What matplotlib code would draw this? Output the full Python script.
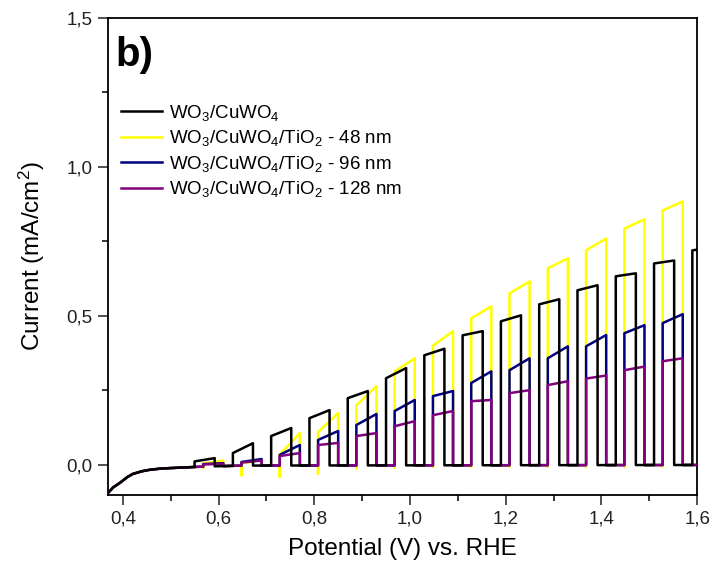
import numpy as np
import matplotlib.pyplot as plt
from matplotlib.ticker import FuncFormatter, MultipleLocator

plt.rcParams["font.family"] = ["Liberation Sans", "DejaVu Sans"]
plt.rcParams["mathtext.default"] = "regular"

# dark current (light off), same for all films
dark_v = [0.369, 0.38, 0.394, 0.41, 0.421, 0.44, 0.457, 0.48, 0.505, 0.56, 0.65, 1.60]
dark_i = [-0.094, -0.075, -0.060, -0.040, -0.030, -0.021, -0.016, -0.012, -0.010, -0.006, -0.002, 0.0]

# potentials where the light is switched on (black film)
pulse_v = [0.55, 0.63, 0.71, 0.79, 0.87, 0.95, 1.03, 1.11, 1.19, 1.27, 1.35, 1.43, 1.51, 1.59]
on_width = 0.042
lag_tio2 = 0.018  # TiO2 coated films are chopped a bit later

# photocurrent at start / end of each light pulse (mA/cm2)
black_on = [0.012, 0.040, 0.097, 0.157, 0.224, 0.291, 0.368, 0.435, 0.482, 0.539, 0.586, 0.633, 0.676, 0.720]
black_off = [0.023, 0.073, 0.124, 0.184, 0.248, 0.325, 0.390, 0.449, 0.502, 0.556, 0.603, 0.643, 0.686, 0.730]

yellow_on = [0.005, 0.005, 0.035, 0.110, 0.200, 0.314, 0.400, 0.492, 0.576, 0.660, 0.720, 0.793, 0.854]
yellow_off = [0.015, 0.017, 0.107, 0.174, 0.264, 0.358, 0.449, 0.532, 0.616, 0.693, 0.760, 0.824, 0.884]
yellow_dip = [-0.010, -0.035, -0.040, -0.030, -0.012, -0.008, -0.006, -0.005, -0.005, -0.005, -0.005, -0.005, -0.005]

blue_on = [0.003, 0.010, 0.034, 0.084, 0.134, 0.181, 0.231, 0.275, 0.318, 0.358, 0.398, 0.442, 0.476]
blue_off = [0.006, 0.020, 0.067, 0.114, 0.171, 0.218, 0.248, 0.314, 0.358, 0.398, 0.436, 0.469, 0.506]

purple_on = [0.002, 0.008, 0.030, 0.067, 0.097, 0.130, 0.167, 0.214, 0.241, 0.268, 0.290, 0.318, 0.348]
purple_off = [0.004, 0.015, 0.040, 0.074, 0.107, 0.147, 0.181, 0.218, 0.251, 0.281, 0.300, 0.330, 0.358]

labels = [
    "WO$_3$/CuWO$_4$",
    "WO$_3$/CuWO$_4$/TiO$_2$ - 48 nm",
    "WO$_3$/CuWO$_4$/TiO$_2$ - 96 nm",
    "WO$_3$/CuWO$_4$/TiO$_2$ - 128 nm",
]
colors = ["black", "#ffff00", "#000080", "#800080"]


def base(v):
    return np.interp(v, dark_v, dark_i)


def chopped(starts, i_on, i_off, dips=None):
    vv, ii = [], []
    prev = dark_v[0] - 1
    for k, s in enumerate(starts):
        e = s + on_width
        for dv, di in zip(dark_v, dark_i):
            if prev < dv < s:
                vv.append(dv)
                ii.append(di)
        vv.append(s)
        ii.append(base(s))
        if dips is not None:
            vv.append(s)
            ii.append(dips[k])
        vv += [s, e, e]
        ii += [i_on[k], i_off[k], base(e)]
        prev = e
    for dv, di in zip(dark_v, dark_i):
        if dv > prev:
            vv.append(dv)
            ii.append(di)
    return vv, ii


fig = plt.figure(figsize=(7.15, 5.76), dpi=100)
ax = fig.add_axes([0.151, 0.141, 0.824, 0.828])

lagged = [s + lag_tio2 for s in pulse_v[:13]]
traces = [
    chopped(pulse_v, black_on, black_off),
    chopped(lagged, yellow_on, yellow_off, yellow_dip),
    chopped(lagged, blue_on, blue_off),
    chopped(lagged, purple_on, purple_off),
]
zorders = [4, 2, 3, 3]
for (v, i), c, lab, z in zip(traces, colors, labels, zorders):
    ax.plot(v, i, color=c, lw=1.8, label=lab, zorder=z)

ax.set_xlim(0.369, 1.6)
ax.set_ylim(-0.1, 1.5)
ax.xaxis.set_major_locator(MultipleLocator(0.2))
ax.xaxis.set_minor_locator(MultipleLocator(0.1))
ax.yaxis.set_major_locator(MultipleLocator(0.5))
ax.yaxis.set_minor_locator(MultipleLocator(0.25))
comma = FuncFormatter(lambda x, p: f"{x:.1f}".replace(".", ","))
ax.xaxis.set_major_formatter(comma)
ax.yaxis.set_major_formatter(comma)
ax.tick_params(which="major", direction="out", length=7, width=1.1, labelsize=13.5,
               colors="#222222", pad=4)
ax.tick_params(which="minor", direction="out", length=4, width=1.1)
for sp in ax.spines.values():
    sp.set_linewidth(1.3)

ax.set_xlabel("Potential (V) vs. RHE", fontsize=17.5, labelpad=8)
ax.set_ylabel("Current (mA/cm$^2$)", fontsize=17.5, labelpad=14)

ax.text(0.012, 0.962, "b)", transform=ax.transAxes, fontsize=29, fontweight="bold",
        ha="left", va="top")
ax.legend(loc="upper left", bbox_to_anchor=(0.0, 0.85), frameon=False, fontsize=13.5,
          handlelength=2.2, handletextpad=0.35, labelspacing=0.3, borderaxespad=0.3)

fig.savefig("out.png", dpi=100)
